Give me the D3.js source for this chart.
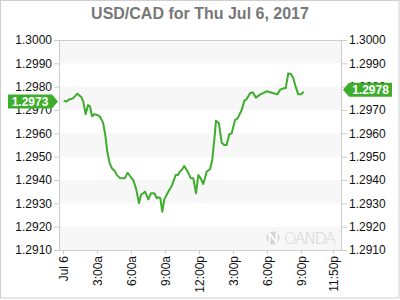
<!DOCTYPE html>
<html><head><meta charset="utf-8">
<script src="https://cdn.jsdelivr.net/npm/d3@7"></script>
<style>body{margin:0;background:#fff}svg{display:block;font-family:"Liberation Sans",Arial,sans-serif}</style>
</head><body>
<svg id="c" width="400" height="300"></svg>
<script>
const title = "USD/CAD for Thu Jul 6, 2017";
const hours = [0.06,0.29,0.50,0.88,1.26,1.61,1.79,2.00,2.21,2.38,2.56,2.74,3.03,3.26,3.53,3.73,3.91,4.12,4.32,4.56,4.76,5.06,5.44,5.71,5.91,6.06,6.20,6.44,6.71,6.88,7.24,7.53,7.76,8.06,8.27,8.41,8.59,8.76,8.94,9.29,9.59,9.94,10.12,10.32,10.47,10.70,11.00,11.29,11.50,11.74,11.94,12.15,12.38,12.68,12.97,13.17,13.35,13.50,13.76,14.00,14.23,14.44,14.67,14.89,15.18,15.41,15.77,16.00,16.21,16.50,16.74,17.03,17.38,17.97,18.41,18.91,19.15,19.44,19.65,19.88,20.12,20.32,20.53,20.76,21.00,21.24];
const rates = [1.29740,1.29736,1.29744,1.29750,1.29770,1.29756,1.29736,1.29682,1.29721,1.29716,1.29673,1.29682,1.29679,1.29671,1.29647,1.29593,1.29521,1.29472,1.29450,1.29439,1.29421,1.29407,1.29407,1.29431,1.29417,1.29407,1.29400,1.29364,1.29300,1.29336,1.29350,1.29317,1.29343,1.29343,1.29322,1.29326,1.29322,1.29264,1.29317,1.29350,1.29374,1.29421,1.29421,1.29436,1.29443,1.29460,1.29436,1.29407,1.29407,1.29343,1.29421,1.29407,1.29383,1.29436,1.29446,1.29486,1.29571,1.29654,1.29643,1.29560,1.29550,1.29550,1.29596,1.29600,1.29657,1.29664,1.29700,1.29739,1.29747,1.29772,1.29776,1.29753,1.29766,1.29780,1.29774,1.29767,1.29786,1.29793,1.29793,1.29857,1.29854,1.29836,1.29800,1.29767,1.29767,1.29778];
const yTicks = [1.2910,1.2920,1.2930,1.2940,1.2950,1.2960,1.2970,1.2980,1.2990,1.3000];
const xTickHours = [0,3,6,9,12,15,18,21,23.8333];
const xTickLabels = ["Jul 6","3:00a","6:00a","9:00a","12:00p","3:00p","6:00p","9:00p","11:50p"];
const openLabel = 1.2973;
const lastLabel = 1.2978;

const green = "#3dad2c";
const svg = d3.select("#c");
const L = 59, R = 342, T = 40, B = 250;
const x = d3.scaleLinear().domain([-0.353, 24.62]).range([L, R]);
const y = d3.scaleLinear().domain([1.2910, 1.3000]).range([B, T]);

// outer border
svg.append("rect").attr("x",0.5).attr("y",0.5).attr("width",398.5).attr("height",297.5)
  .attr("fill","none").attr("stroke","#cfcfcf");

// title
svg.append("text").attr("x",200).attr("y",19).attr("text-anchor","middle")
  .attr("font-size",16).attr("font-weight","bold").attr("fill","#777").text(title);

// bands
for (let i = 0; i < yTicks.length - 1; i += 2) {
  svg.append("rect").attr("x",L).attr("width",R-L)
    .attr("y",y(yTicks[i+1])).attr("height",y(yTicks[i])-y(yTicks[i+1])).attr("fill","#f7f7f7");
}

// watermark
const wm = svg.append("g").attr("opacity",0.9);
wm.append("circle").attr("cx",273).attr("cy",238).attr("r",6.5).attr("fill","#d0d0d0");
wm.append("path").attr("d","M269.5,233 L269.5,243 M276.5,233 L276.5,243 M269.5,233 L276.5,243").attr("stroke","#fff").attr("stroke-width",2).attr("fill","none");
wm.append("text").attr("x",284).attr("y",244).attr("font-size",16).attr("fill","#d0d0d0")
  .attr("font-family","'DejaVu Sans','Liberation Sans',sans-serif").attr("font-weight","200").attr("textLength",52).text("OANDA");

// plot border
svg.append("rect").attr("x",L+0.5).attr("y",T+0.5).attr("width",R-L-1).attr("height",B-T)
  .attr("fill","none").attr("stroke","#cccccc");

// axes
const yl = svg.append("g").attr("transform",`translate(${L},0)`)
  .call(d3.axisLeft(y).tickValues(yTicks).tickFormat(d3.format(".4f")).tickSize(5).tickPadding(2));
const yr = svg.append("g").attr("transform",`translate(${R},0)`)
  .call(d3.axisRight(y).tickValues(yTicks).tickFormat(d3.format(".4f")).tickSize(5).tickPadding(2));
const xa = svg.append("g").attr("transform",`translate(0,${B})`)
  .call(d3.axisBottom(x).tickValues(xTickHours).tickFormat((d,i)=>xTickLabels[i]).tickSize(4).tickPadding(3));
[yl,yr,xa].forEach(g=>{
  g.select(".domain").remove();
  g.selectAll(".tick line").attr("stroke","#cccccc");
  g.selectAll("text").attr("font-size",12).attr("fill","#111").attr("font-family","'Liberation Sans',Arial,sans-serif");
});
xa.selectAll("text").attr("transform","rotate(-90)").attr("text-anchor","end")
  .attr("x",-6).attr("y",0).attr("dy","0.35em");

// line
const data = hours.map((h,i)=>({h, v: rates[i]}));
svg.append("path").datum(data)
  .attr("fill","none").attr("stroke",green).attr("stroke-width",2).attr("stroke-linejoin","round")
  .attr("d", d3.line().x(d=>x(d.h)).y(d=>y(d.v)));

// value labels
function tag(v, side) {
  const cy = y(v) - 1.5, h = 14;
  let p, tx;
  if (side === "left") {
    p = `M8,${cy-h/2} L52,${cy-h/2} L58,${cy} L52,${cy+h/2} L8,${cy+h/2} Z`; tx = 30;
  } else {
    p = `M343,${cy} L349,${cy-h/2} L392,${cy-h/2} L392,${cy+h/2} L349,${cy+h/2} Z`; tx = 370.5;
  }
  svg.append("path").attr("d",p).attr("fill",green);
  svg.append("text").attr("x",tx).attr("y",cy).attr("dy","0.36em").attr("text-anchor","middle")
    .attr("font-size",12).attr("font-weight","bold").attr("fill","#fff").text(v.toFixed(4));
}
tag(openLabel,"left");
tag(lastLabel,"right");
</script>
</body></html>
